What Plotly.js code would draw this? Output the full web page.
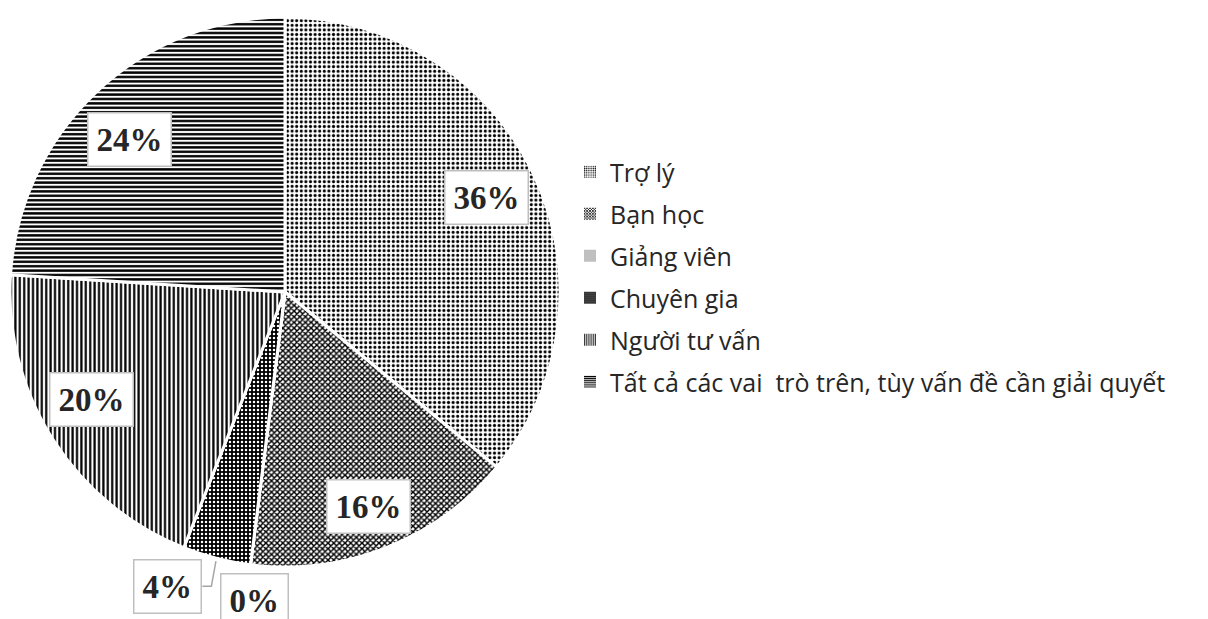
<!DOCTYPE html>
<html>
<head>
<meta charset="utf-8">
<script src="https://cdn.plot.ly/plotly-3.0.1.min.js"></script>
<style>html,body{margin:0;padding:0;background:#fff}#chart{width:1208px;height:619px}</style>
</head>
<body>
<div id="chart"></div>
<script>
// ---- data ----
const categories = ["Trợ lý", "Bạn học", "Giảng viên", "Chuyên gia", "Người tư vấn", "Tất cả các vai  trò trên, tùy vấn đề cần giải quyết"];
const percents = [36, 16, 0, 4, 20, 24];

// ---- styles ----
const patShapes = [".", "x", "", ".", "|", "-"];
const patFg = ["#000", "#000", "#bfbfbf", "#fff", "#000", "#000"];
const patBg = ["#fff", "#fff", "#bfbfbf", "#000", "#fff", "#fff"];
const patSize = [4.6, 4, 5, 4, 4.4, 4.4];
const patSolid = [0.35, 0.6, 1, 0.3, 0.5, 0.55];

const W = 1208, H = 619;
const cx = 285, cy = 292, R = 275;

const pie = {
  type: "pie",
  values: percents,
  labels: categories,
  sort: false,
  direction: "clockwise",
  rotation: 0,
  textinfo: "none",
  hoverinfo: "label+percent",
  showlegend: false,
  domain: {x: [(cx - R) / W, (cx + R) / W], y: [1 - (cy + R) / H, 1 - (cy - R) / H]},
  marker: {
    colors: patBg,
    line: {color: "#fff", width: 3},
    pattern: {shape: patShapes, fgcolor: patFg, bgcolor: patBg, size: patSize, solidity: patSolid, fillmode: "replace"}
  }
};

// legend entries (dummy bar traces, one per category, no visible bar)
const legendTraces = categories.map((c, i) => ({
  type: "bar", x: [c], y: [null], name: c, legendgroup: "g" + i,
  marker: {color: patBg[i], line: {width: 0},
    pattern: {shape: patShapes[i], fgcolor: patFg[i], bgcolor: patBg[i], size: Math.max(2.5, patSize[i] * 0.6), solidity: patSolid[i]}},
  hoverinfo: "skip"
}));

// data label placement: radius factor and pixel nudges per slice
const labelPlace = [
  {r: 0.81, dx: 0, dy: 0},
  {r: 0.81, dx: 2, dy: 7},
  {r: 1.12, dx: 8, dy: 3},
  {r: 1.15, dx: -39, dy: -12},
  {r: 0.81, dx: -5, dy: -12},
  {r: 0.81, dx: -3, dy: 10}
];
const annotations = [];
const shapes = [];
let cum = 0;
const total = percents.reduce((a, b) => a + b, 0);
percents.forEach((v, i) => {
  const a0 = cum / total * 2 * Math.PI;
  cum += v;
  const a1 = cum / total * 2 * Math.PI;
  const mid = (a0 + a1) / 2;
  const lp = labelPlace[i];
  const px = cx + Math.sin(mid) * R * lp.r + lp.dx;
  const py = cy - Math.cos(mid) * R * lp.r + lp.dy;
  annotations.push({
    xref: "paper", yref: "paper", x: px / W, y: 1 - py / H,
    text: "<b>" + v + "%</b>", showarrow: false,
    font: {family: "Liberation Serif, Times New Roman, serif", size: 33, color: "#262626"},
    bgcolor: "#fff", bordercolor: "#bfbfbf", borderwidth: 1.5, borderpad: 8,
    xanchor: "center", yanchor: "middle"
  });
  if (i === 3) {
    // leader line from slice edge to label box
    const ex = cx + Math.sin(mid) * R * 1.01, ey = cy - Math.cos(mid) * R * 1.01;
    const bx = px + 35, by = py;
    shapes.push({type: "path", xref: "paper", yref: "paper",
      path: `M ${ex / W} ${1 - ey / H} L ${(bx + 9) / W} ${1 - by / H} L ${bx / W} ${1 - by / H}`,
      line: {color: "#a6a6a6", width: 1.5}});
  }
});

const layout = {
  width: W, height: H,
  margin: {l: 0, r: 0, t: 0, b: 0},
  paper_bgcolor: "#fff", plot_bgcolor: "#fff",
  xaxis: {visible: false, domain: [0.9, 1]},
  yaxis: {visible: false, domain: [0.9, 1]},
  showlegend: true,
  legend: {
    x: 570 / W, y: 1 - 149 / H, xanchor: "left", yanchor: "top",
    traceorder: "grouped", tracegroupgap: 6.5,
    font: {family: "Open Sans, Noto Sans, sans-serif", size: 25, color: "#262626"},
    bgcolor: "rgba(0,0,0,0)", itemclick: false
  },
  annotations: annotations,
  shapes: shapes
};

Plotly.newPlot("chart", [pie].concat(legendTraces), layout, {displayModeBar: false, staticPlot: true});
</script>
</body>
</html>
